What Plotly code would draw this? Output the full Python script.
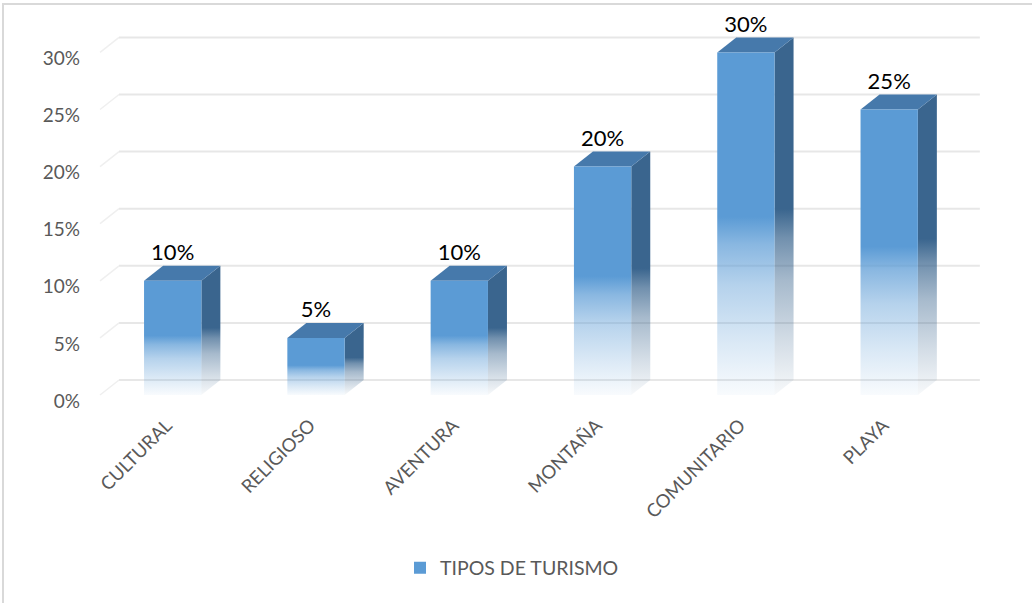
import plotly.graph_objects as go

# Data
categories = ["CULTURAL", "RELIGIOSO", "AVENTURA", "MONTAÑA", "COMUNITARIO", "PLAYA"]
values = [10, 5, 10, 20, 30, 25]
y_ticks = [0, 5, 10, 15, 20, 25, 30]
series_name = "TIPOS DE TURISMO"

# Canvas / layout geometry (pixels)
W, H = 1032, 603
ML, MR, MT, MB = 87, 43, 15, 191
CX0, STEP = 172.7, 143.3          # pixel centre of first category, spacing
Y0, PX_PER = 395.0, 11.42          # pixel of 0 %, pixels per percent
plot_w = W - ML - MR
plot_h = H - MT - MB

x_range = [(ML - CX0) / STEP, (W - MR - CX0) / STEP]
y_range = [(Y0 - (H - MB)) / PX_PER, (Y0 - MT) / PX_PER]

# 3-D depth offset of the bars / back wall, in data units
DX = 19 / STEP
DY = 15 / PX_PER
HALF = 0.2  # half bar width in category units

FRONT = (91, 155, 213)
SIDE = (58, 101, 142)
TOP = (70, 121, 171)
GRID = "#E7E7E7"
TXT = "#595959"
FONT = "Lato"


def rgba(c, a):
    return f"rgba({c[0]},{c[1]},{c[2]},{a})"


def fade(c):
    # solid in the upper half, fading towards the floor
    return [
        [0.0, rgba(c, 0.04)],
        [0.15, rgba(c, 0.22)],
        [0.32, rgba(c, 0.45)],
        [0.44, rgba(c, 0.72)],
        [0.52, rgba(c, 1.0)],
        [1.0, rgba(c, 1.0)],
    ]


fig = go.Figure()

# Gridlines: short diagonal on the side wall, then along the back wall
for v in y_ticks:
    x_left = -0.5 - 0.007
    fig.add_trace(go.Scatter(
        x=[x_left, x_left + DX], y=[v, v + DY], mode="lines",
        line=dict(color="#EFEFEF", width=1.5), hoverinfo="skip", showlegend=False))
    fig.add_trace(go.Scatter(
        x=[x_left + DX, len(categories) - 0.5 + DX], y=[v + DY, v + DY], mode="lines",
        line=dict(color=GRID, width=2), hoverinfo="skip", showlegend=False))

# Bars drawn as three faces each
for i, v in enumerate(values):
    xl, xr = i - HALF, i + HALF
    # right side face
    fig.add_trace(go.Scatter(
        x=[xr, xr, xr + DX, xr + DX, xr], y=[0, v, v + DY, DY, 0],
        mode="none", fill="toself",
        fillgradient=dict(type="vertical", colorscale=fade(SIDE)),
        hoverinfo="skip", showlegend=False))
    # top face
    fig.add_trace(go.Scatter(
        x=[xl, xr, xr + DX, xl + DX, xl], y=[v, v, v + DY, v + DY, v],
        mode="none", fill="toself", fillcolor=rgba(TOP, 1),
        hoverinfo="skip", showlegend=False))
    # front face
    fig.add_trace(go.Scatter(
        x=[xl, xr, xr, xl, xl], y=[0, 0, v, v, 0],
        mode="none", fill="toself",
        fillgradient=dict(type="vertical", colorscale=fade(FRONT)),
        name=series_name, hovertemplate=f"{categories[i]}: {v}%<extra></extra>",
        showlegend=False))

# Value labels above each bar
fig.add_trace(go.Scatter(
    x=list(range(len(categories))), y=[v + DY for v in values],
    mode="text", text=[f"{v}%" for v in values], textposition="top center",
    textfont=dict(family=FONT, size=22, color="#000000"),
    hoverinfo="skip", showlegend=False))

# Legend entry
fig.add_trace(go.Bar(
    x=[None], y=[None], name=series_name,
    marker=dict(color=rgba(FRONT, 1), line=dict(width=0)), showlegend=True))

# Outer chart border (light grey frame)
bx0 = (3 - ML) / plot_w
by1 = ((H - MB) - 4) / plot_h
fig.add_shape(type="rect", xref="paper", yref="paper",
              x0=bx0, x1=(W + 20 - ML) / plot_w, y0=-(MB + 20) / plot_h, y1=by1,
              line=dict(color="#D9D9D9", width=2), fillcolor="rgba(0,0,0,0)", layer="below")

fig.update_layout(
    width=W, height=H,
    margin=dict(l=ML, r=MR, t=MT, b=MB),
    paper_bgcolor="white", plot_bgcolor="white",
    font=dict(family=FONT, color=TXT),
    xaxis=dict(range=x_range, tickvals=list(range(len(categories))), ticktext=categories,
               tickangle=-45, tickfont=dict(size=18.5, color=TXT), showgrid=False,
               zeroline=False, showline=False, ticks="", fixedrange=True,
               ticklabelstandoff=-2, ticklabelshift=-6),
    yaxis=dict(range=y_range, tickvals=y_ticks, ticktext=[f"{t}%" for t in y_ticks],
               tickfont=dict(size=19, color=TXT), showgrid=False, zeroline=False,
               showline=False, ticks="", fixedrange=True, ticklabelstandoff=6,
               ticklabelshift=6),
    legend=dict(orientation="h", x=(512 - ML) / plot_w, xanchor="center",
                y=((H - MB) - 568) / plot_h, yanchor="middle",
                font=dict(size=19.5, color=TXT), bgcolor="rgba(0,0,0,0)"),
    showlegend=True,
    bargap=0.5,
)

fig.write_html("out.html")
